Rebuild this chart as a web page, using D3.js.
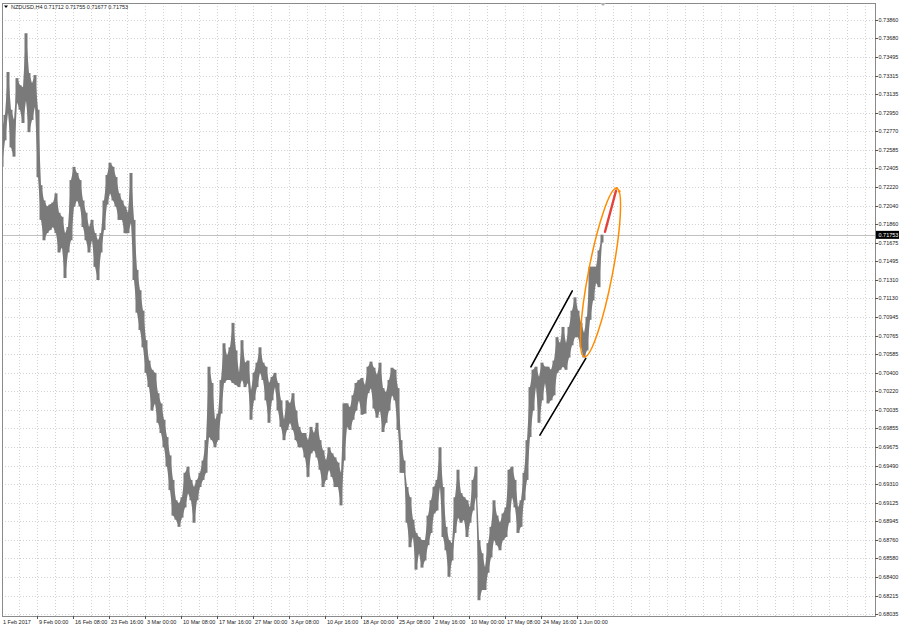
<!DOCTYPE html>
<html>
<head>
<meta charset="utf-8">
<script src="https://cdn.jsdelivr.net/npm/d3@7"></script>
<style>
  html, body { margin: 0; padding: 0; background: #fff; }
  svg { display: block; }
  text { font-family: "Liberation Sans", Arial, sans-serif; }
</style>
</head>
<body>
<svg id="chart" width="900" height="629"></svg>
<script>
// ---------------- DATA ----------------
const symbolTitle = "NZDUSD,H4";
const lastBarOHLC = [0.71712, 0.71755, 0.71677, 0.71753];
const currentPrice = 0.71753;

// sampled bar highs / lows (H4 bars, aggregated)
const highs = [
0.7278,0.7293,0.7335,0.7298,0.7288,0.7329,0.7322,0.7320,0.7373,0.7334,
0.7324,0.7332,0.7298,0.7224,0.7209,0.7203,0.7205,0.7207,0.7216,0.7197,
0.7193,0.7177,0.7183,0.7229,0.7242,0.7236,0.7229,0.7209,0.7197,0.7183,
0.7190,0.7177,0.7170,0.7177,0.7209,0.7234,0.7246,0.7242,0.7232,0.7216,
0.7209,0.7203,0.7197,0.7236,0.7190,0.7141,0.7121,0.7101,0.7072,0.7052,
0.7043,0.7040,0.7020,0.7010,0.6994,0.6977,0.6959,0.6935,0.6915,0.6912,
0.6918,0.6942,0.6948,0.6935,0.6928,0.6935,0.6942,0.6954,0.6974,0.7046,
0.7030,0.6994,0.7000,0.7033,0.7069,0.7057,0.7065,0.7089,0.7062,0.7040,
0.7072,0.7050,0.7052,0.7023,0.7040,0.7050,0.7065,0.7050,0.7046,0.7030,
0.7036,0.7040,0.7030,0.7013,0.6994,0.7013,0.7010,0.7020,0.7003,0.6987,
0.6981,0.6981,0.6974,0.6987,0.6981,0.6991,0.6974,0.6964,0.6954,0.6967,
0.6961,0.6957,0.6952,0.6942,0.7010,0.7010,0.7006,0.7018,0.7030,0.7033,
0.7035,0.7028,0.7046,0.7051,0.7045,0.7038,0.7050,0.7025,0.7021,0.7033,
0.7045,0.7043,0.7025,0.6974,0.6954,0.6928,0.6918,0.6896,0.6883,0.6879,
0.6876,0.6876,0.6900,0.6915,0.6928,0.6935,0.6967,0.6928,0.6889,0.6876,
0.6873,0.6918,0.6945,0.6922,0.6918,0.6915,0.6908,0.6935,0.6948,0.6876,
0.6863,0.6849,0.6873,0.6889,0.6915,0.6900,0.6893,0.6902,0.6908,0.6945,
0.6948,0.6935,0.6908,0.6915,0.6942,0.6974,0.7026,0.7043,0.7046,0.7036,
0.7050,0.7046,0.7046,0.7043,0.7052,0.7075,0.7069,0.7085,0.7069,0.7085,
0.7101,0.7114,0.7101,0.7089,0.7079,0.7095,0.7144,0.7144,0.7144,0.7160,
0.71755
];
const lows = [
0.7242,0.7268,0.7295,0.7261,0.7252,0.7305,0.7298,0.7285,0.7307,0.7276,
0.7288,0.7301,0.7232,0.7190,0.7170,0.7177,0.7180,0.7183,0.7177,0.7158,
0.7163,0.7133,0.7158,0.7170,0.7203,0.7209,0.7203,0.7183,0.7170,0.7158,
0.7170,0.7144,0.7131,0.7158,0.7180,0.7205,0.7216,0.7209,0.7203,0.7190,
0.7190,0.7177,0.7177,0.7187,0.7131,0.7099,0.7082,0.7065,0.7040,0.7026,
0.7003,0.7010,0.6991,0.6981,0.6967,0.6948,0.6925,0.6900,0.6896,0.6889,
0.6898,0.6908,0.6922,0.6915,0.6893,0.6915,0.6928,0.6935,0.6942,0.6977,
0.6974,0.6967,0.6974,0.7000,0.7030,0.7033,0.7033,0.7030,0.7028,0.7026,
0.7033,0.7026,0.7030,0.6994,0.7013,0.7026,0.7040,0.7033,0.7013,0.6991,
0.7013,0.7026,0.7003,0.6987,0.6974,0.6984,0.6991,0.6984,0.6974,0.6967,
0.6967,0.6957,0.6938,0.6961,0.6964,0.6957,0.6945,0.6928,0.6935,0.6945,
0.6938,0.6928,0.6928,0.6910,0.6954,0.6987,0.6984,0.6994,0.7003,0.7013,
0.6999,0.7000,0.7020,0.7025,0.7005,0.6996,0.7003,0.6982,0.6991,0.7003,
0.7018,0.7013,0.6984,0.6942,0.6942,0.6893,0.6869,0.6879,0.6847,0.6863,
0.6849,0.6856,0.6871,0.6883,0.6902,0.6905,0.6928,0.6879,0.6866,0.6840,
0.6856,0.6883,0.6898,0.6893,0.6896,0.6879,0.6893,0.6905,0.6918,0.6817,
0.6827,0.6827,0.6844,0.6859,0.6876,0.6871,0.6866,0.6876,0.6879,0.6893,
0.6918,0.6908,0.6883,0.6889,0.6915,0.6935,0.6977,0.7003,0.7026,0.6991,
0.7013,0.7030,0.7010,0.7013,0.7018,0.7040,0.7043,0.7046,0.7043,0.7055,
0.7067,0.7075,0.7075,0.7065,0.7055,0.7062,0.7092,0.7111,0.7128,0.7124,
0.71677
];

const timeLabels = ["1 Feb 2017","9 Feb 00:00","16 Feb 08:00","23 Feb 16:00","3 Mar 00:00",
  "10 Mar 08:00","17 Mar 16:00","27 Mar 00:00","3 Apr 08:00","10 Apr 16:00","18 Apr 00:00",
  "25 Apr 08:00","2 May 16:00","10 May 00:00","17 May 08:00","24 May 16:00","1 Jun 00:00"];

const priceTicks = [0.73860,0.73680,0.73495,0.73315,0.73135,0.72950,0.72770,0.72585,0.72405,
  0.72220,0.72040,0.71860,0.71675,0.71495,0.71310,0.71130,0.70945,0.70765,0.70585,0.70400,
  0.70220,0.70035,0.69855,0.69675,0.69490,0.69310,0.69125,0.68945,0.68760,0.68580,0.68400,
  0.68215,0.68035];

// drawing objects, anchored in (bar index, price)
const channelLines = [
  [[176.3, 0.70459], [190.1, 0.71204]],
  [[179.3, 0.69789], [194.6, 0.70541]]
];
const ellipsePoints = [[194.1, 0.70557], [204.9, 0.72209]];
const ellipseRatio = 0.14;
const arrowLine = [[201.0, 0.71783], [204.67, 0.72185]];

// ---------------- LAYOUT ----------------
const W = 900, H = 629;
const plot = { left: 2, top: 3, right: 875, bottom: 616 };
const barsPerLabel = 12, barsPerGrid = 6;

const svg = d3.select("#chart");

const x = d3.scaleLinear().domain([0, highs.length - 1]).range([2, 602]);
const y = d3.scaleLinear().domain([0.68035, 0.73860]).range([614, 20]);

svg.append("rect").attr("width", W).attr("height", H).attr("fill", "#fff");

// clip
svg.append("clipPath").attr("id", "plotclip").append("rect")
  .attr("x", plot.left).attr("y", plot.top)
  .attr("width", plot.right - plot.left).attr("height", plot.bottom - plot.top);

const gGrid = svg.append("g").attr("clip-path", "url(#plotclip)");
const gridColor = "#d2d2d2";
// vertical grid
const maxIdx = Math.floor(x.invert(plot.right));
const vIdx = d3.range(barsPerGrid, maxIdx + 1, barsPerGrid);
gGrid.selectAll("line.vg").data(vIdx).join("line")
  .attr("x1", d => Math.round(x(d)) - 0.5).attr("x2", d => Math.round(x(d)) - 0.5)
  .attr("y1", plot.top).attr("y2", plot.bottom)
  .attr("stroke", gridColor).attr("stroke-width", 1).attr("stroke-dasharray", "1,2");
// horizontal grid
gGrid.selectAll("line.hg").data(priceTicks).join("line")
  .attr("x1", plot.left).attr("x2", plot.right)
  .attr("y1", d => Math.round(y(d)) + 0.5).attr("y2", d => Math.round(y(d)) + 0.5)
  .attr("stroke", gridColor).attr("stroke-width", 1).attr("stroke-dasharray", "1,2");

// current price line
gGrid.append("line")
  .attr("x1", plot.left).attr("x2", plot.right)
  .attr("y1", Math.round(y(currentPrice)) + 0.5).attr("y2", Math.round(y(currentPrice)) + 0.5)
  .attr("stroke", "#c0c0c0").attr("stroke-width", 1);

// bars
const barColor = "#7a7a7a";
const gBars = svg.append("g").attr("clip-path", "url(#plotclip)");
const band = d3.area()
  .x((d, i) => x(i))
  .y0((d, i) => y(lows[i]))
  .y1(d => y(d));
gBars.append("path").datum(highs).attr("d", band).attr("fill", barColor);
gBars.selectAll("rect.bar").data(highs).join("rect")
  .attr("x", (d, i) => x(i) - 1.5)
  .attr("width", 3)
  .attr("y", (d, i) => y(d))
  .attr("height", (d, i) => Math.max(1, y(lows[i]) - y(d)))
  .attr("fill", barColor);

// drawings
const gDraw = svg.append("g").attr("clip-path", "url(#plotclip)");
gDraw.selectAll("line.ch").data(channelLines).join("line")
  .attr("x1", d => x(d[0][0])).attr("y1", d => y(d[0][1]))
  .attr("x2", d => x(d[1][0])).attr("y2", d => y(d[1][1]))
  .attr("stroke", "#000").attr("stroke-width", 1.6).attr("stroke-linecap", "round");

{
  const p1 = [x(ellipsePoints[0][0]), y(ellipsePoints[0][1])];
  const p2 = [x(ellipsePoints[1][0]), y(ellipsePoints[1][1])];
  const cx = (p1[0] + p2[0]) / 2, cy = (p1[1] + p2[1]) / 2;
  const len = Math.hypot(p2[0] - p1[0], p2[1] - p1[1]) / 2;
  const ang = Math.atan2(p2[1] - p1[1], p2[0] - p1[0]) * 180 / Math.PI;
  gDraw.append("ellipse")
    .attr("cx", 0).attr("cy", 0).attr("rx", len).attr("ry", len * ellipseRatio)
    .attr("transform", `translate(${cx},${cy}) rotate(${ang})`)
    .attr("fill", "none").attr("stroke", "#ff8c00").attr("stroke-width", 1.5);
  gDraw.selectAll("circle.anchor").data([p2, [p2[0] + 2.5, p2[1] + 3]]).join("circle")
    .attr("cx", d => d[0]).attr("cy", d => d[1]).attr("r", 1.3).attr("fill", "#ff8c00");
}

gDraw.append("line")
  .attr("x1", x(arrowLine[0][0])).attr("y1", y(arrowLine[0][1]))
  .attr("x2", x(arrowLine[1][0])).attr("y2", y(arrowLine[1][1]))
  .attr("stroke", "#e5403a").attr("stroke-width", 2.4).attr("stroke-linecap", "round");

// frame
svg.append("rect")
  .attr("x", plot.left + 0.5).attr("y", plot.top + 0.5)
  .attr("width", plot.right - plot.left).attr("height", plot.bottom - plot.top)
  .attr("fill", "none").attr("stroke", "#8a8a8a").attr("stroke-width", 1);

// shift marker
svg.append("path")
  .attr("d", d3.line()([[600, 3], [606, 3], [603, 6]]) + "Z")
  .attr("fill", "#b0b0b0");

// price axis
const gY = svg.append("g");
gY.selectAll("line.yt").data(priceTicks).join("line")
  .attr("x1", plot.right).attr("x2", plot.right + 3)
  .attr("y1", d => Math.round(y(d)) + 0.5).attr("y2", d => Math.round(y(d)) + 0.5)
  .attr("stroke", "#555");
gY.selectAll("text.yl").data(priceTicks).join("text")
  .attr("x", plot.right + 3.5).attr("y", d => y(d) + 2)
  .attr("font-size", "5.5px").attr("fill", "#222")
  .text(d => d.toFixed(5));

// current price box
const cpY = y(currentPrice);
gY.append("rect").attr("x", plot.right + 1).attr("y", cpY - 4).attr("width", 23).attr("height", 8)
  .attr("fill", "#000");
gY.append("text").attr("x", plot.right + 3.5).attr("y", cpY + 2)
  .attr("font-size", "5.5px").attr("fill", "#fff").text(currentPrice.toFixed(5));

// time axis
const gX = svg.append("g");
const labelIdx = timeLabels.map((d, k) => k * barsPerLabel);
gX.selectAll("line.xt").data(labelIdx.slice(1)).join("line")
  .attr("x1", d => Math.round(x(d)) - 0.5).attr("x2", d => Math.round(x(d)) - 0.5)
  .attr("y1", plot.bottom).attr("y2", plot.bottom + 3)
  .attr("stroke", "#555");
gX.selectAll("text.xl").data(timeLabels).join("text")
  .attr("x", (d, k) => x(labelIdx[k]) + 1).attr("y", 624)
  .attr("font-size", "5.5px").attr("fill", "#222")
  .text(d => d);

// title
svg.append("path").attr("d", d3.line()([[4, 5.5], [8, 5.5], [6, 8]]) + "Z").attr("fill", "#000");
svg.append("text").attr("x", 11).attr("y", 9).attr("font-size", "5.5px").attr("fill", "#222")
  .text(symbolTitle + "  " + lastBarOHLC.map(v => v.toFixed(5)).join(" "));
</script>
</body>
</html>
